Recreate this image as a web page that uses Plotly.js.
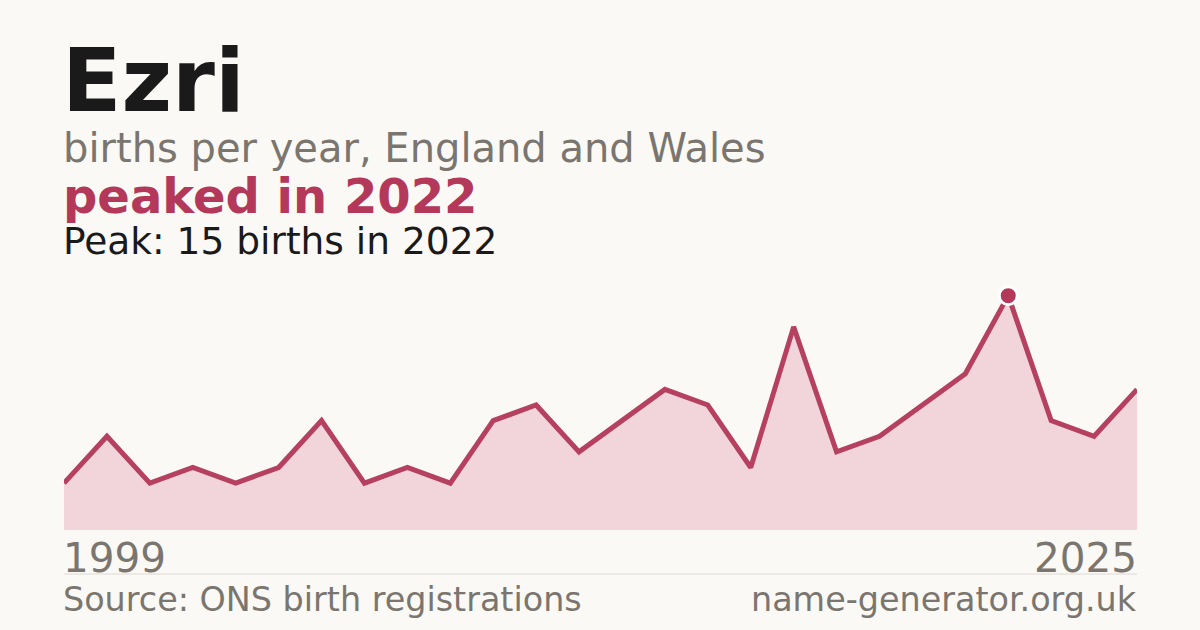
<!DOCTYPE html>
<html>
<head>
<meta charset="utf-8">
<script src="https://cdn.plot.ly/plotly-3.0.1.min.js"></script>
<style>
  html, body { margin: 0; padding: 0; background: #faf9f5; }
  #chart { width: 1200px; height: 630px; }
</style>
</head>
<body>
<div id="chart"></div>
<script>
// years with published counts (ONS leaves out years under 3 births, so one year is missing)
var years = ["1999", "2001", "2002", "2003", "2004", "2005", "2006", "2007", "2008", "2009",
             "2010", "2011", "2012", "2013", "2014", "2015", "2016", "2017", "2018", "2019",
             "2020", "2021", "2022", "2023", "2024", "2025"];
var births = [3, 6, 3, 4, 3, 4, 7, 3, 4, 3,
              7, 8, 5, 7, 9, 8, 4, 13, 5, 6,
              8, 10, 15, 7, 6, 9];
var peakYear = ["2022"];
var peakBirths = [15];
var edgeLabels = ["1999", "2025"];

var crimson = "#b3385a";
var grey = "#7a766f";
var ink = "#1a1a1a";
var font = "DejaVu Sans";

// area under the line
var areaTrace = {
  x: years,
  y: births,
  type: "scatter",
  mode: "lines",
  fill: "tozeroy",
  fillcolor: "#f1d5da",
  line: { color: "#b6405f", width: 5 },
  hoverinfo: "skip"
};

// dot on the peak year
var peakTrace = {
  x: peakYear,
  y: peakBirths,
  type: "scatter",
  mode: "markers",
  marker: { size: 18, color: crimson, line: { color: "#ffffff", width: 3 } },
  cliponaxis: false,
  hoverinfo: "skip"
};

// helper for the text blocks, placed in paper units
function note(text, x, y, size, color, bold, anchor) {
  return {
    xref: "paper", yref: "paper",
    x: x, y: y,
    xanchor: anchor || "left", yanchor: "middle",
    showarrow: false,
    text: bold ? "<b>" + text + "</b>" : text,
    font: { family: font, size: size, color: color }
  };
}

var layout = {
  width: 1200,
  height: 630,
  margin: { l: 64, r: 63, t: 280, b: 100 },
  paper_bgcolor: "#faf9f5",
  plot_bgcolor: "#faf9f5",
  showlegend: false,
  xaxis: {
    type: "category",
    range: [0, years.length - 1],
    showgrid: false, zeroline: false, showticklabels: false, showline: false
  },
  yaxis: {
    range: [0, 16],
    showgrid: false, zeroline: false, showticklabels: false, showline: false
  },
  shapes: [{
    type: "line", xref: "paper", yref: "paper",
    x0: 0, x1: 1, y0: -0.176, y1: -0.176,
    line: { color: "#dddad3", width: 1 }
  }],
  annotations: [
    note("Ezri", -0.004, 1.796, 87, ink, true),
    note("births per year, England and Wales", -0.003, 1.53, 40, grey, false),
    note("peaked in 2022", -0.003, 1.336, 48, crimson, true),
    note("Peak: 15 births in 2022", -0.003, 1.158, 37.5, ink, false),
    note(edgeLabels[0], -0.003, -0.11, 40.5, grey, false),
    note(edgeLabels[1], 1.002, -0.11, 40.5, grey, false, "right"),
    note("Source: ONS birth registrations", -0.003, -0.278, 33.4, grey, false),
    note("name-generator.org.uk", 1.002, -0.278, 33.4, grey, false, "right")
  ]
};

Plotly.newPlot("chart", [areaTrace, peakTrace], layout, { displayModeBar: false, staticPlot: true });
</script>
</body>
</html>
